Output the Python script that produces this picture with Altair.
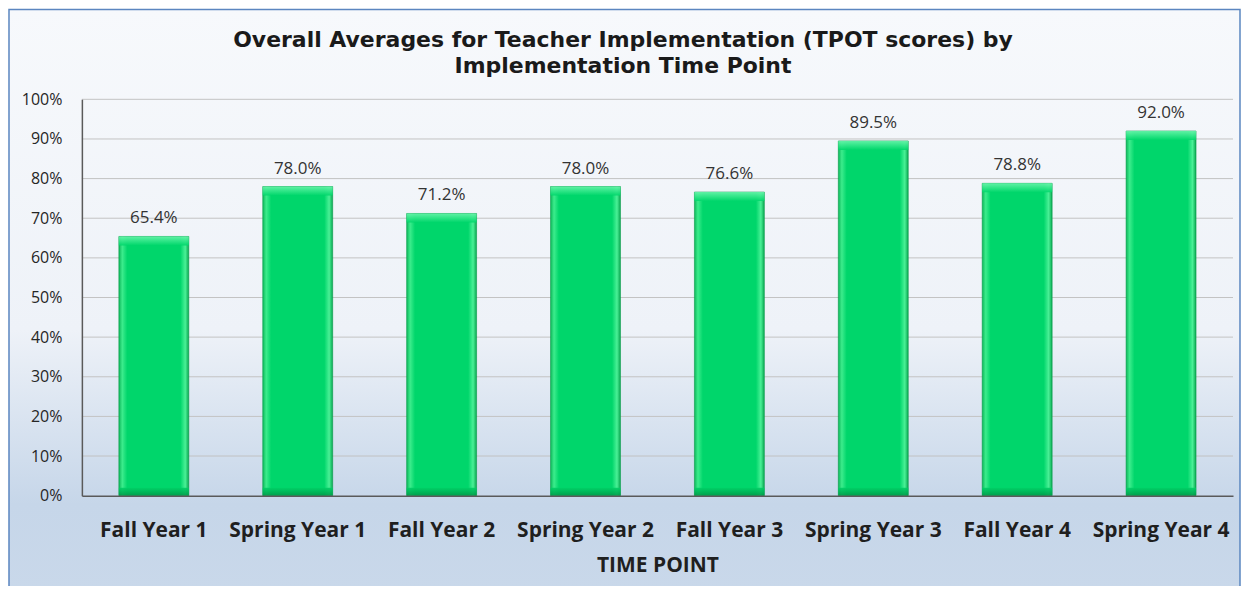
import altair as alt
import pandas as pd

categories = ["Fall Year 1", "Spring Year 1", "Fall Year 2", "Spring Year 2",
              "Fall Year 3", "Spring Year 3", "Fall Year 4", "Spring Year 4"]
values = [65.4, 78.0, 71.2, 78.0, 76.6, 89.5, 78.8, 92.0]
grid_values = [10, 20, 30, 40, 50, 60, 70, 80, 90, 100]
tick_values = [0, 10, 20, 30, 40, 50, 60, 70, 80, 90, 100]
title_lines = ["Overall Averages for Teacher Implementation (TPOT scores) by",
               "Implementation Time Point"]

FONT = "Open Sans"
TFONT = "DejaVu Sans"
W, H = 1153, 397
PAD = {"left": 74, "top": 91, "right": 8, "bottom": 90}

df = pd.DataFrame({"cat": categories, "val": values,
                   "lab": [f"{v:.1f}%" for v in values],
                   "zero": [0] * len(values)})
gdf = pd.DataFrame({"g": grid_values})
bg = pd.DataFrame({"a": [0]})
tdf = pd.DataFrame({"t": title_lines, "i": [0, 1]})

xaxis = alt.Axis(zindex=2, grid=False, ticks=False, domainColor="#5a5a5a", domainWidth=1.5,
                 labelFont=FONT, labelFontSize=21, labelFontWeight="bold",
                 labelColor="#1f1f1f", labelAngle=0, labelPadding=24,
                 titleFont=FONT, titleFontSize=21, titleFontWeight="bold",
                 titleColor="#1f1f1f", titlePadding=14)
yaxis = alt.Axis(zindex=2, grid=False, ticks=False, domainColor="#5a5a5a", domainWidth=1.5,
                 values=tick_values, labelExpr="datum.value + '%'", labelOverlap=False,
                 labelFont=FONT, labelFontSize=16, labelColor="#262626", labelPadding=20)

xenc = alt.X("cat:N", sort=categories, title="TIME POINT", axis=xaxis,
             scale=alt.Scale(paddingInner=0.514, paddingOuter=0.257))
yscale = alt.Scale(domain=[0, 100], nice=False)

background = alt.Chart(bg).mark_rect(
    fill=alt.LinearGradient(
        gradient="linear", x1=0, x2=0, y1=0, y2=1,
        stops=[alt.GradientStop(offset=0, color="#f7f9fc"),
               alt.GradientStop(offset=0.55, color="#eef2f8"),
               alt.GradientStop(offset=0.85, color="#c6d6e9"),
               alt.GradientStop(offset=1, color="#c9d8ea")]),
    stroke="#5b86c0", strokeWidth=1.5
).encode(
    x=alt.value(-PAD["left"] + 1), x2=alt.value(W + PAD["right"] - 1),
    y=alt.value(-PAD["top"] + 1), y2=alt.value(H + PAD["bottom"] + 6)
)

grid = alt.Chart(gdf).mark_rule(color="#c3c3c3", strokeWidth=1).encode(
    y=alt.Y("g:Q", scale=yscale, title=None, axis=yaxis),
    x=alt.value(0), x2=alt.value(W)
)

bar_fill = alt.LinearGradient(
    gradient="linear", x1=0, x2=1, y1=0, y2=0,
    stops=[alt.GradientStop(offset=0, color="#0cb85a"),
           alt.GradientStop(offset=0.05, color="#3cec8c"),
           alt.GradientStop(offset=0.12, color="#00d66b"),
           alt.GradientStop(offset=0.88, color="#00d66b"),
           alt.GradientStop(offset=0.95, color="#4af096"),
           alt.GradientStop(offset=1, color="#08a850")])

bars = alt.Chart(df).mark_bar(fill=bar_fill, stroke="#0a9a4a", strokeWidth=0.6).encode(
    x=xenc,
    y=alt.Y("val:Q", scale=yscale, title=None, axis=yaxis)
)

top_bevel = alt.Chart(df).mark_bar(
    y2Offset=9, xOffset=0,
    fill=alt.LinearGradient(
        gradient="linear", x1=0, x2=0, y1=0, y2=1,
        stops=[alt.GradientStop(offset=0, color="#6af4ab"),
               alt.GradientStop(offset=0.5, color="#34e78a"),
               alt.GradientStop(offset=1, color="#00d66b")]),
    opacity=0.9
).encode(
    x=xenc,
    y=alt.Y("val:Q", scale=yscale, title=None, axis=yaxis),
    y2=alt.Y2("val")
)

bottom_bevel = alt.Chart(df).mark_bar(
    yOffset=-8,
    fill=alt.LinearGradient(
        gradient="linear", x1=0, x2=0, y1=0, y2=1,
        stops=[alt.GradientStop(offset=0, color="#00d066"),
               alt.GradientStop(offset=1, color="#009a49")]),
    opacity=0.9
).encode(
    x=xenc,
    y=alt.Y("zero:Q", scale=yscale, title=None, axis=yaxis),
    y2=alt.Y2("zero")
)

texts = alt.Chart(df).mark_text(dy=-13, baseline="alphabetic", font=FONT, fontSize=17,
                                color="#333333").encode(
    x=xenc, y=alt.Y("val:Q", scale=yscale, title=None, axis=yaxis), text="lab:N"
)

title1 = alt.Chart(tdf[tdf.i == 0]).mark_text(
    font=TFONT, fontSize=22, fontWeight="bold", color="#1a1a1a", baseline="alphabetic"
).encode(x=alt.value(542), y=alt.value(-52), text="t:N")
title2 = alt.Chart(tdf[tdf.i == 1]).mark_text(
    font=TFONT, fontSize=22, fontWeight="bold", color="#1a1a1a", baseline="alphabetic"
).encode(x=alt.value(542), y=alt.value(-26), text="t:N")

chart = alt.layer(background, grid, bars, top_bevel, bottom_bevel, texts,
                  title1, title2).properties(
    width=W, height=H,
    autosize=alt.AutoSizeParams(type="none"),
    padding=PAD,
).configure_view(strokeWidth=0)

chart.save("out.html", embed_options={"renderer": "svg", "actions": False})
